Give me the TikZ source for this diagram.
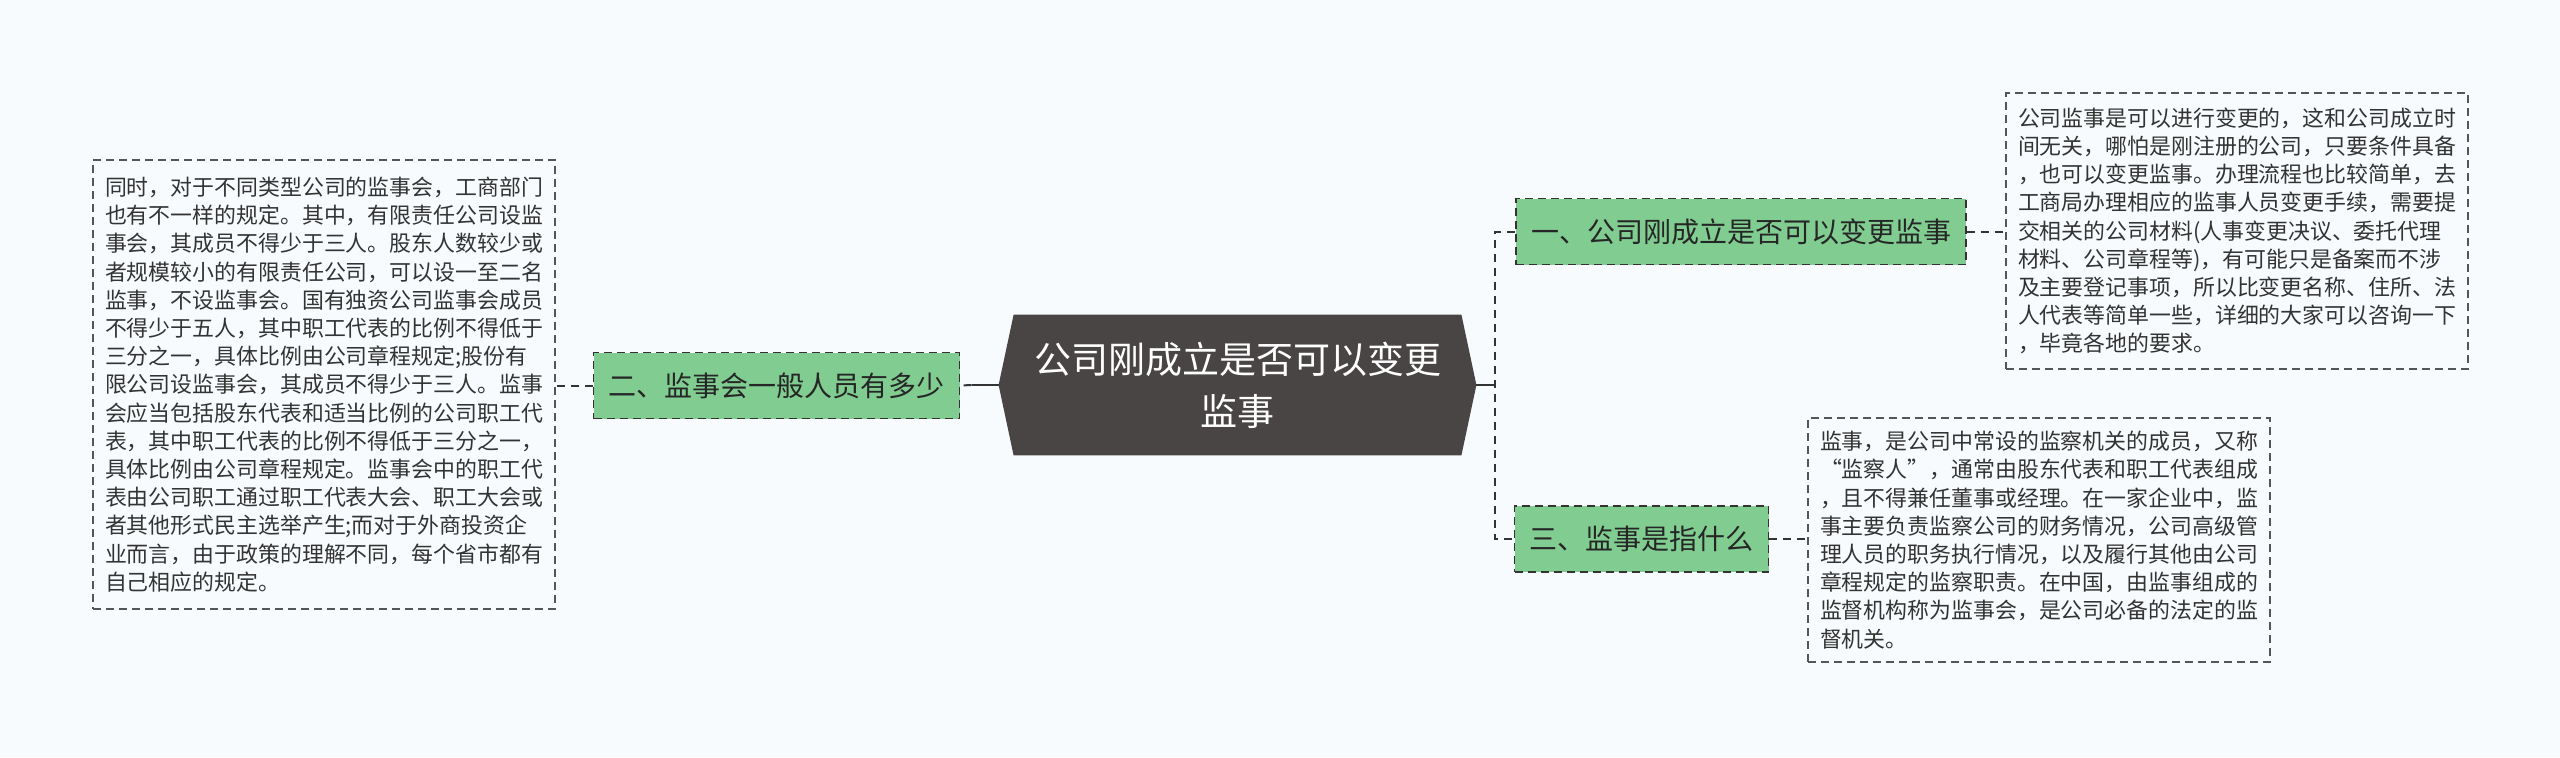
\documentclass[tikz,border=0pt]{standalone}
\usepackage{fontspec}
\newfontfamily\cjk{Noto Sans CJK SC}
\usetikzlibrary{backgrounds}

\definecolor{bgcol}{HTML}{F7FBFD}
\definecolor{hubcol}{HTML}{4A4545}
\definecolor{branchcol}{HTML}{80CC91}
\definecolor{edgecol}{HTML}{333333}
\definecolor{leafline}{HTML}{555555}
\definecolor{leaftext}{HTML}{333333}

\tikzset{
  hub/.style={align=center,text=white,inner sep=0pt,minimum width=223.5pt,minimum height=70pt,
    font=\cjk\fontsize{18.5}{26}\selectfont},
  branch/.style={draw=edgecol,fill=branchcol,dash pattern=on 4pt off 2.5pt,line width=0.9pt,
    inner xsep=7.5pt,minimum height=33pt,text=black!85,font=\cjk\fontsize{14}{16}\selectfont},
  leaf/.style={draw=leafline,fill=bgcol,dash pattern=on 4pt off 2.5pt,line width=0.7pt,
    align=left,minimum width=231pt,inner xsep=6pt,text=leaftext,
    font=\cjk\fontsize{10.95}{14.1}\selectfont},
  trunk/.style={draw=edgecol,line width=1pt},
  twig/.style={draw=edgecol,line width=1pt,dash pattern=on 4pt off 3pt},
}

\begin{document}
\begin{tikzpicture}[x=0.5pt,y=-0.5pt]
    \begin{scope}[on background layer]
        \fill[bgcol] (0,0) rectangle (2560,757);
    \end{scope}
    \useasboundingbox (0,0) rectangle (2560,757);

    %% centre topic, hexagon drawn behind it
    \node[hub] (ctr) at (1237.5,385) {公司刚成立是否可以变更\\监事};
    \begin{scope}[on background layer]
        \fill[hubcol] (ctr.north west) -- (ctr.north east) -- ([xshift=7.5pt]ctr.east) coordinate (tipR)
            -- (ctr.south east) -- (ctr.south west) -- ([xshift=-7.5pt]ctr.west) coordinate (tipL) -- cycle;
    \end{scope}

    \node[branch] (b2) at (776.5,385.5) {二、监事会一般人员有多少};
    \node[branch] (b1) at (1741,231.5) {一、公司刚成立是否可以变更监事};
    \node[branch] (b3) at (1641.5,539) {三、监事是指什么};

    \node[leaf,minimum height=224.5pt] (l2) at (324,384.5) {同时，对于不同类型公司的监事会，工商部门\\
        也有不一样的规定。其中，有限责任公司设监\\
        事会，其成员不得少于三人。股东人数较少或\\
        者规模较小的有限责任公司，可以设一至二名\\
        监事，不设监事会。国有独资公司监事会成员\\
        不得少于五人，其中职工代表的比例不得低于\\
        三分之一，具体比例由公司章程规定;股份有\\
        限公司设监事会，其成员不得少于三人。监事\\
        会应当包括股东代表和适当比例的公司职工代\\
        表，其中职工代表的比例不得低于三分之一，\\
        具体比例由公司章程规定。监事会中的职工代\\
        表由公司职工通过职工代表大会、职工大会或\\
        者其他形式民主选举产生;而对于外商投资企\\
        业而言，由于政策的理解不同，每个省市都有\\
        自己相应的规定。};
    \node[leaf,minimum height=138pt] (l1) at (2237,231) {公司监事是可以进行变更的，这和公司成立时\\
        间无关，哪怕是刚注册的公司，只要条件具备\\
        ，也可以变更监事。办理流程也比较简单，去\\
        工商局办理相应的监事人员变更手续，需要提\\
        交相关的公司材料(人事变更决议、委托代理\\
        材料、公司章程等)，有可能只是备案而不涉\\
        及主要登记事项，所以比变更名称、住所、法\\
        人代表等简单一些，详细的大家可以咨询一下\\
        ，毕竟各地的要求。};
    \node[leaf,minimum height=122pt] (l3) at (2039,540) {监事，是公司中常设的监察机关的成员，又称\\
        “监察人”，通常由股东代表和职工代表组成\\
        ，且不得兼任董事或经理。在一家企业中，监\\
        事主要负责监察公司的财务情况，公司高级管\\
        理人员的职务执行情况，以及履行其他由公司\\
        章程规定的监察职责。在中国，由监事组成的\\
        监督机构称为监事会，是公司必备的法定的监\\
        督机关。};

    %% connectors: solid stub off the hub, dashed after the fork
    \draw[trunk] (tipL) -- ++(-27,0) coordinate (forkL);
    \draw[twig] (forkL) -- (b2.east);
    \draw[trunk] (tipR) -- ++(19,0) coordinate (forkR);
    \draw[twig] (b1.west) -| (forkR) |- (b3.west);
    \draw[twig] (b2.west) -- (l2.east |- b2.west);
    \draw[twig] (b1.east) -- (l1.west |- b1.east);
    \draw[twig] (b3.east) -- (l3.west |- b3.east);
\end{tikzpicture}
\end{document}
